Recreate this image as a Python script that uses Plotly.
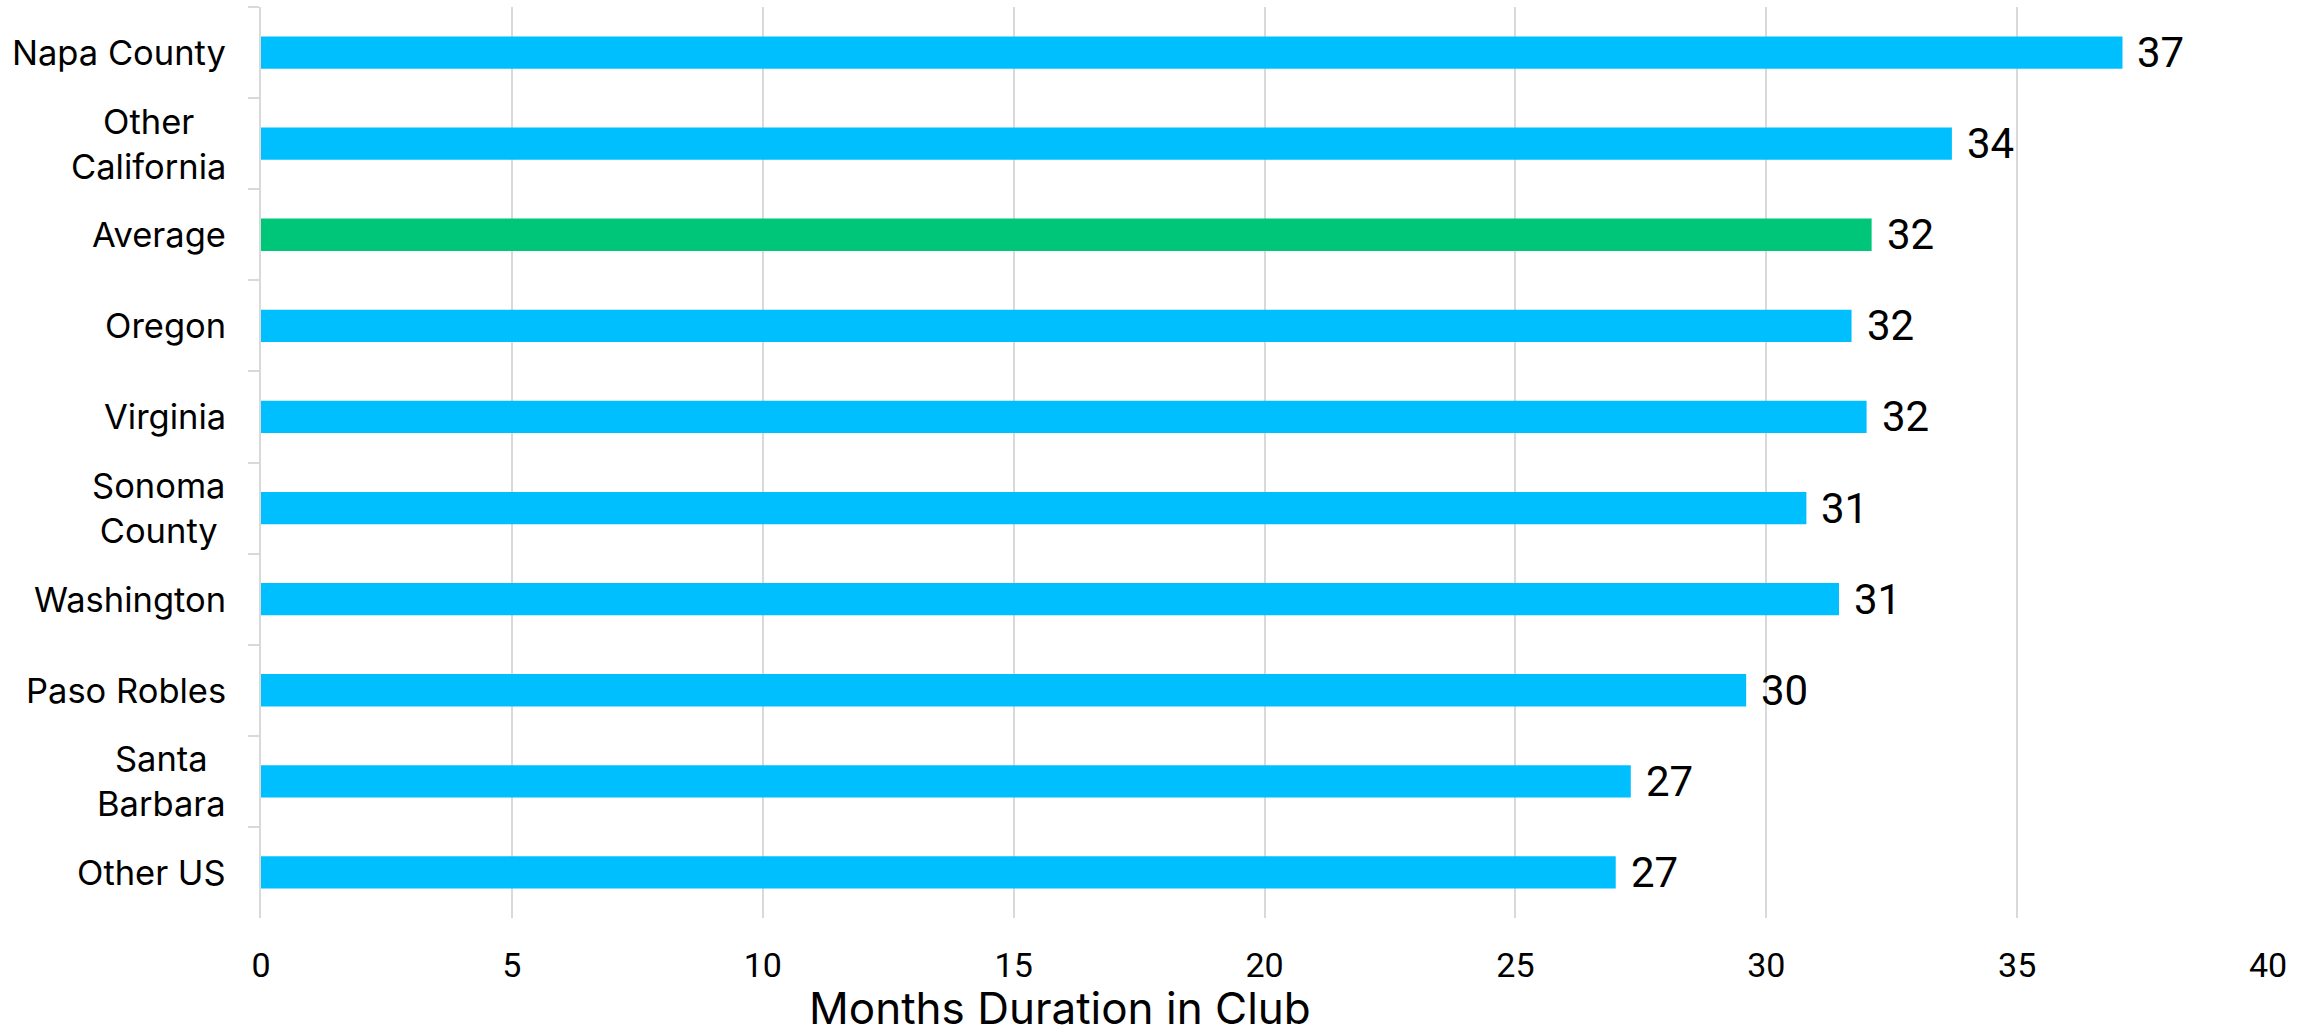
import plotly.graph_objects as go

# Average membership duration by region (months)
regions = ["Napa County", "Other<br>California", "Average", "Oregon", "Virginia",
           "Sonoma<br>County", "Washington", "Paso Robles", "Santa<br>Barbara", "Other US"]
months = [37.1, 33.7, 32.1, 31.7, 32.0, 30.8, 31.45, 29.6, 27.3, 27.0]
x_ticks = [0, 5, 10, 15, 20, 25, 30, 35, 40]

BLUE = "#00BFFF"
GREEN = "#00C67A"
GRID = "#D9D9D9"
bar_colors = [GREEN if r == "Average" else BLUE for r in regions]

fig = go.Figure(
    go.Bar(
        x=months,
        y=regions,
        orientation="h",
        marker=dict(color=bar_colors, line=dict(width=0)),
        hoverinfo="x+y",
    )
)

# value labels just beyond each bar end
for r, v in zip(regions, months):
    fig.add_annotation(
        x=v, y=r, xref="x", yref="y",
        text=f"{round(v)}", showarrow=False,
        xanchor="left", yanchor="middle", xshift=13,
        font=dict(family="Roboto, Arial, sans-serif", size=42, color="#000000"),
    )

# category labels: wrapped lines centred on each other, block right-aligned
for r in regions:
    fig.add_annotation(
        x=0, y=r, xref="paper", yref="y",
        text=r, showarrow=False, align="center",
        xanchor="right", yanchor="middle", xshift=-33,
        font=dict(family="Inter, Lato, sans-serif", size=34.5, color="#000000"),
    )

# axis title
fig.add_annotation(
    x=0.398, y=0, xref="paper", yref="paper",
    text="Months Duration in Club", showarrow=False,
    xanchor="center", yanchor="middle", yshift=-90,
    font=dict(family="Inter, Lato, sans-serif", size=44, color="#000000"),
)

fig.update_layout(
    width=2308, height=1030,
    margin=dict(l=261, r=40, t=7, b=112),
    paper_bgcolor="white", plot_bgcolor="white",
    bargap=0.645,
    showlegend=False,
    xaxis=dict(
        range=[0, 40], tickvals=x_ticks, ticktext=[str(t) for t in x_ticks],
        showgrid=True, gridcolor=GRID, gridwidth=2,
        showline=False, zeroline=False, ticks="",
        ticklabelstandoff=24,
        tickfont=dict(family="Roboto, Arial, sans-serif", size=34, color="#000000"),
    ),
    yaxis=dict(
        categoryorder="array", categoryarray=regions, autorange="reversed",
        showticklabels=False, showgrid=False, zeroline=False,
        showline=True, linecolor=GRID, linewidth=2,
        ticks="outside", tickson="boundaries", ticklen=11, tickwidth=2, tickcolor=GRID,
    ),
)

fig.write_html("out.html")
